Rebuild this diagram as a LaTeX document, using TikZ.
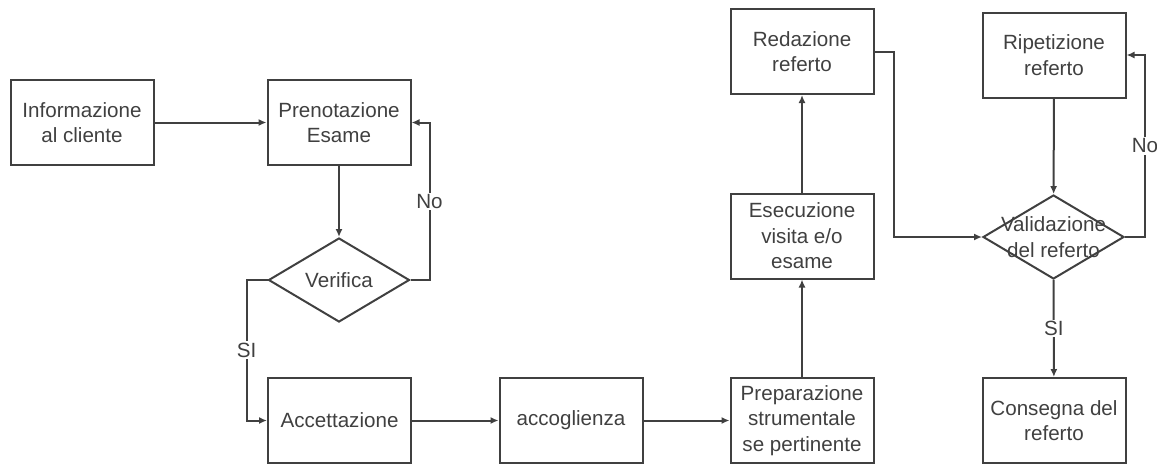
\documentclass[tikz,border=0pt]{standalone}
\usepackage{fontspec}
\setmainfont{Liberation Sans}
\usetikzlibrary{arrows.meta,shapes.geometric}

\begin{document}
\begin{tikzpicture}[x=1pt, y=-1pt, font=\fontsize{20.6}{25.5}\selectfont, color=black!75, line width=2pt, -{Latex[length=8pt,width=7pt]},
	box/.style={draw, rectangle, minimum width=143pt, minimum height=85pt, align=center, inner sep=0pt},
	dec/.style={draw, diamond, minimum width=141pt, minimum height=84pt, inner sep=0pt},
	lbl/.style={fill=white, inner sep=1.5pt}]
	\useasboundingbox (0,0) rectangle (1157,464);
	% prima parte
	\node[box] (info) at (82,122.5) {Informazione\\al cliente};
	\node[box] (pren) at (339,122.5) {Prenotazione\\Esame};
	\node[dec, label={[align=center]center:Verifica}] (verif) at (339,280) {};
	\node[box] (acc) at (339.5,420.5) {Accettazione};
	\node[box] (accog) at (571,420.5) {accoglienza};
	\node[box] (prep) at (802,420.5) {Preparazione\\strumentale\\se pertinente};
	\node[box] (esec) at (802,236) {Esecuzione\\visita e/o\\esame};
	\node[box] (red) at (802,51.5) {Redazione\\referto};
	% validazione
	\node[box] (rip) at (1054,55) {Ripetizione\\referto};
	\node[dec, label={[align=center]center:Validazione\\del referto}] (valid) at (1053.5,237) {};
	\node[box] (cons) at (1054,420.5) {Consegna del\\referto};

	\draw (info) -- (pren);
	\draw (pren) -- (verif);
	\draw (verif.east) -- ++(19,0) |- node[lbl, pos=.25] {No} (pren.east);
	\draw (verif.west) -- ++(-21,0) |- node[lbl, pos=.25] {SI} (acc.west);
	\draw (acc) -- (accog);
	\draw (accog) -- (prep);
	\draw (prep) -- (esec);
	\draw (esec) -- (red);
	\draw (red.east) -- ++(19,0) |- (valid.west);
	\draw (rip) -- (valid);
	\draw (valid.east) -- ++(20,0) |- node[lbl, pos=.25] {No} (rip.east);
	\draw (valid) -- node[lbl] {SI} (cons);
\end{tikzpicture}
\end{document}
